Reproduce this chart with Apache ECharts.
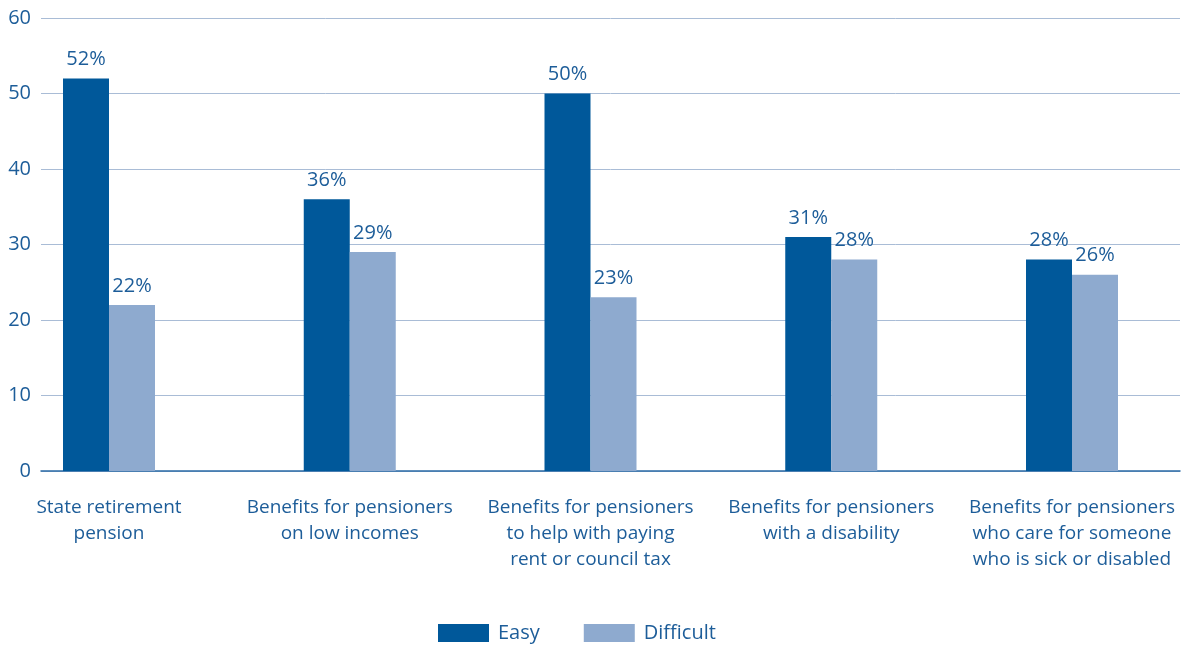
<!DOCTYPE html>
<html>
<head>
<meta charset="utf-8">
<script src="https://cdn.jsdelivr.net/npm/echarts@6/dist/echarts.min.js"></script>
<style>
html, body { margin: 0; padding: 0; background: #fff; }
#chart { width: 1189px; height: 646px; }
</style>
</head>
<body>
<div id="chart"></div>
<script>
var categories = [
    'State retirement\npension',
    'Benefits for pensioners\non low incomes',
    'Benefits for pensioners\nto help with paying\nrent or council tax',
    'Benefits for pensioners\nwith a disability',
    'Benefits for pensioners\nwho care for someone\nwho is sick or disabled'
];
var easy = [52, 36, 50, 31, 28];
var difficult = [22, 29, 23, 28, 26];
var yTicks = [0, 10, 20, 30, 40, 50, 60];

var textColor = '#1d5d99';
var font = 'Open Sans';

var chart = echarts.init(document.getElementById('chart'));
chart.setOption({
    animation: false,
    textStyle: { fontFamily: font, color: textColor },
    legend: {
        top: 618,
        left: 433,
        icon: 'rect',
        itemWidth: 51,
        itemHeight: 18,
        itemGap: 44,
        textStyle: { fontFamily: font, fontSize: 20, color: textColor, padding: [0, 0, 0, 4] },
        data: ['Easy', 'Difficult']
    },
    // grid 0 draws the y axis + gridlines, grid 1 places the bars (points at category centres)
    grid: [
        { left: 41, right: 9, top: 18, bottom: 175 },
        { left: 109, right: 117, top: 18, bottom: 175 }
    ],
    xAxis: [{
        gridIndex: 0,
        type: 'category',
        data: categories,
        axisLine: { lineStyle: { color: '#2a6aa5', width: 1.5 } },
        axisTick: { show: false },
        axisLabel: { show: false }
    }, {
        gridIndex: 1,
        type: 'category',
        boundaryGap: false,
        data: categories,
        axisLine: { show: false },
        axisTick: { show: false },
        axisLabel: {
            margin: 24,
            interval: 0,
            fontFamily: font,
            fontSize: 19,
            lineHeight: 26,
            color: textColor
        }
    }],
    yAxis: [{
        gridIndex: 0,
        type: 'value',
        min: yTicks[0],
        max: yTicks[yTicks.length - 1],
        interval: 10,
        axisLine: { show: false },
        axisTick: { show: false },
        axisLabel: { margin: 10, fontFamily: font, fontSize: 20, color: textColor },
        splitLine: { lineStyle: { color: '#a9bcd6', width: 1 } }
    }, {
        gridIndex: 1,
        type: 'value',
        min: 0,
        max: 60,
        show: false
    }],
    series: [{
        name: 'Easy',
        type: 'bar',
        xAxisIndex: 1,
        yAxisIndex: 1,
        clip: false,
        data: easy,
        barWidth: 46,
        barGap: '0%',
        itemStyle: { color: '#00589a' },
        label: {
            show: true,
            position: 'top',
            distance: 9,
            formatter: '{c}%',
            fontFamily: font,
            fontSize: 20,
            color: textColor
        }
    }, {
        name: 'Difficult',
        type: 'bar',
        xAxisIndex: 1,
        yAxisIndex: 1,
        clip: false,
        data: difficult,
        barWidth: 46,
        barGap: '0%',
        itemStyle: { color: '#8eaacf' },
        label: {
            show: true,
            position: 'top',
            distance: 9,
            formatter: '{c}%',
            fontFamily: font,
            fontSize: 20,
            color: textColor
        }
    }]
});
</script>
</body>
</html>
